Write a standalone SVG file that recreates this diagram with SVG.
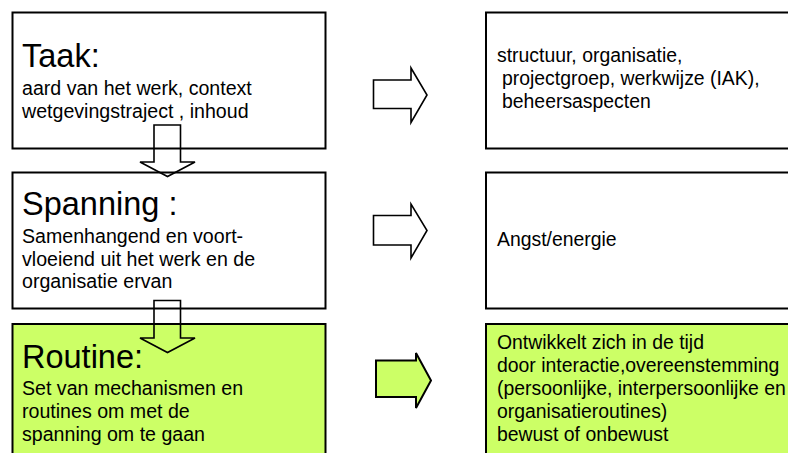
<svg xmlns="http://www.w3.org/2000/svg" width="788" height="453" viewBox="0 0 788 453">
<style>
.box{fill:#fff;stroke:#000;stroke-width:2}
.green{fill:#CCFF66}
.arr{fill:none;stroke:#000;stroke-width:1.6;stroke-linejoin:miter}
.garr{fill:#CCFF66;stroke:#000;stroke-width:2}
.title{font-family:"Liberation Sans",Arial,sans-serif;font-size:32.5px;fill:#000}
.sub{font-family:"Liberation Sans",Arial,sans-serif;font-size:19.6px;fill:#000}
.rt{font-family:"Liberation Sans",Arial,sans-serif;font-size:19.4px;fill:#000}
</style>
<rect width="788" height="453" fill="#fff"/>
<g id="taak">
<rect class="box" x="12.5" y="12.5" width="313" height="136"/>
<text class="title" x="22" y="67">Taak:</text>
<text class="sub" x="22" y="95">aard van het werk, context</text>
<text class="sub" x="22" y="118">wetgevingstraject , inhoud</text>
</g>
<g id="spanning">
<rect class="box" x="12.5" y="172.5" width="313" height="136"/>
<text class="title" x="22" y="215">Spanning :</text>
<text class="sub" x="22" y="243">Samenhangend en voort-</text>
<text class="sub" x="22" y="266">vloeiend uit het werk en de</text>
<text class="sub" x="22" y="288">organisatie ervan</text>
</g>
<g id="routine">
<rect class="box green" x="12.5" y="324" width="313" height="140"/>
<text class="title" x="22" y="368">Routine:</text>
<text class="sub" x="22" y="395">Set van mechanismen en</text>
<text class="sub" x="22" y="418">routines om met de</text>
<text class="sub" x="22" y="441">spanning om te gaan</text>
</g>
<g id="structuur">
<rect class="box" x="486" y="12.5" width="320" height="136"/>
<text class="rt" x="497" y="62">structuur, organisatie,</text>
<text class="rt" x="502" y="85">projectgroep, werkwijze (IAK),</text>
<text class="rt" x="502" y="108">beheersaspecten</text>
</g>
<g id="angst">
<rect class="box" x="486" y="172.5" width="320" height="136"/>
<text class="rt" x="497" y="246">Angst/energie</text>
</g>
<g id="ontwikkelt">
<rect class="box green" x="486" y="324" width="320" height="140"/>
<text class="rt" x="497" y="349">Ontwikkelt zich in de tijd</text>
<text class="rt" x="497" y="372">door interactie,overeenstemming</text>
<text class="rt" x="497" y="395">(persoonlijke, interpersoonlijke en</text>
<text class="rt" x="497" y="418">organisatieroutines)</text>
<text class="rt" x="497" y="441">bewust of onbewust</text>
</g>
<g id="connectors">
<polygon class="arr" points="154,125 180.5,125 180.5,162 195,162 167.5,176.5 140,162 154,162"/>
<polygon class="arr" points="154,300.5 180.5,300.5 180.5,338 195,338 167.5,352.5 140,338 154,338"/>
<polygon class="arr" points="373.5,80 411,80 411,68 427,95 411,122.5 411,108.5 373.5,108.5"/>
<polygon class="arr" points="373.5,215.5 411,215.5 411,204 427,230.5 411,258 411,245 373.5,245"/>
<polygon class="garr" points="376,360.5 416,360.5 416,353 431,380.5 416,408 416,397 376,397"/>
</g>
</svg>
